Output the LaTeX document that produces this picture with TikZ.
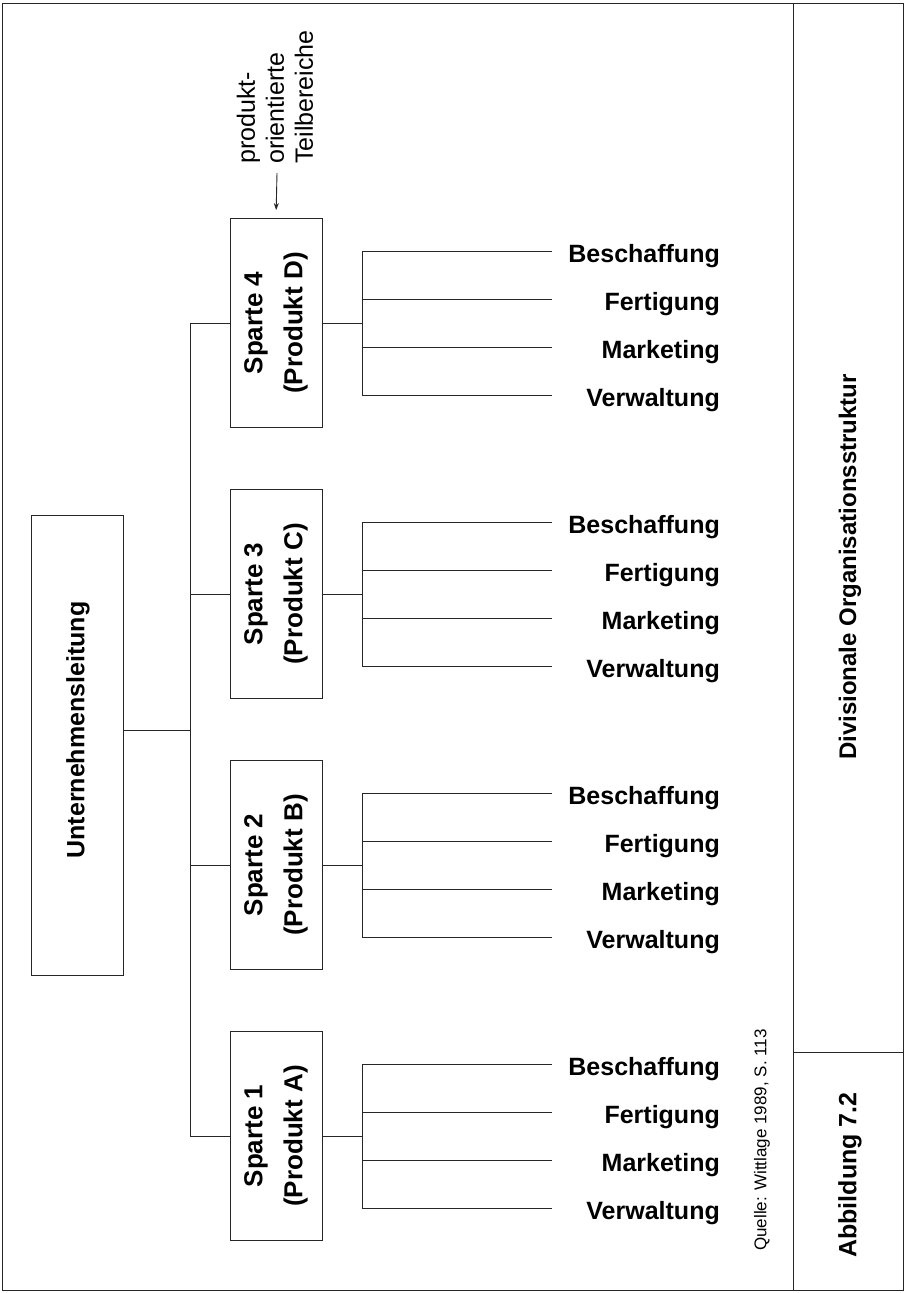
\documentclass[tikz,border=0pt]{standalone}
\usepackage{fontspec}
\setmainfont{Liberation Sans}
\usetikzlibrary{arrows.meta}
\begin{document}
\begin{tikzpicture}[x=1pt,y=-1pt,
  ln/.style={draw=black!85, line width=0.9pt},
  spbox/.style={draw=black!85, line width=0.9pt, minimum width=92pt, minimum height=209pt, inner sep=0pt},
  sptext/.style={rotate=90, align=center, inner sep=0pt, font=\fontsize{26}{40}\selectfont\bfseries},
  dept/.style={anchor=east, inner sep=0pt, font=\fontsize{25}{30}\selectfont\bfseries},
  big/.style={rotate=90, inner sep=0pt, font=\fontsize{25}{30}\selectfont\bfseries},
  small/.style={rotate=90, inner sep=0pt, font=\fontsize{17}{20}\selectfont}
]
\useasboundingbox (0,0) rectangle (906,1293);
% frame
\draw[ln] (2,3) rectangle (903,1290);
\draw[ln] (793,3) -- (793,1290);
\draw[ln] (793,1052) -- (903,1052);

% top management
\node[draw=black!85, line width=0.9pt, minimum width=92pt, minimum height=460pt, inner sep=0pt] (ul) at (77,745) {};
\node[big] (ult) at (78,730) {Unternehmensleitung};
\coordinate (ulc) at (123,730);
\coordinate (busc) at (190,730);
\draw[ln] (ulc) -- (busc);

% divisions
\foreach \n/\cy/\p in {1/1136/A, 2/865/B, 3/594/C, 4/323/D}{
  \node[spbox] (s\n) at (276,\cy) {};
  \node[sptext] (s\n t) at (276,\cy) {Sparte \n\\(Produkt \p)};
  \coordinate (b\n) at (190,\cy);
  \draw[ln] (b\n) -- (s\n.west);
  \coordinate (h\n) at (362,\cy);
  \draw[ln] (s\n.east) -- (h\n);
  \foreach \off/\lab [count=\k] in {-72/Beschaffung,-24/Fertigung,24/Marketing,72/Verwaltung}{
    \pgfmathsetmacro\yy{\cy+\off}
    \coordinate (j\n\k) at (362,\yy);
    \coordinate (e\n\k) at (552,\yy);
    \draw[ln] (j\n\k) -- (e\n\k);
    \node[dept] (d\n\k) at (720,\yy+5) {\lab};
  }
  \draw[ln] (j\n1) -- (j\n4);
}
\draw[ln] (b4) -- (b1);

% annotation
\node[rotate=90, inner sep=0pt, anchor=west, align=left, font=\fontsize{25}{29}\selectfont] (ann) at (275,164) {produkt-\\orientierte\\Teilbereiche};
\coordinate (arrs) at (277,173);
\draw[ln, -{Stealth[length=7pt,width=5pt]}, shorten >=8pt] (arrs) -- (s4.north);

% right column
\node[big, font=\fontsize{24}{28}\selectfont\bfseries] (title) at (850,567) {Divisionale Organisationsstruktur};
\node[big] (fig) at (850,1175) {Abbildung 7.2};
\node[small] (src) at (762,1140) {Quelle: Wittlage 1989, S. 113};
\end{tikzpicture}
\end{document}
